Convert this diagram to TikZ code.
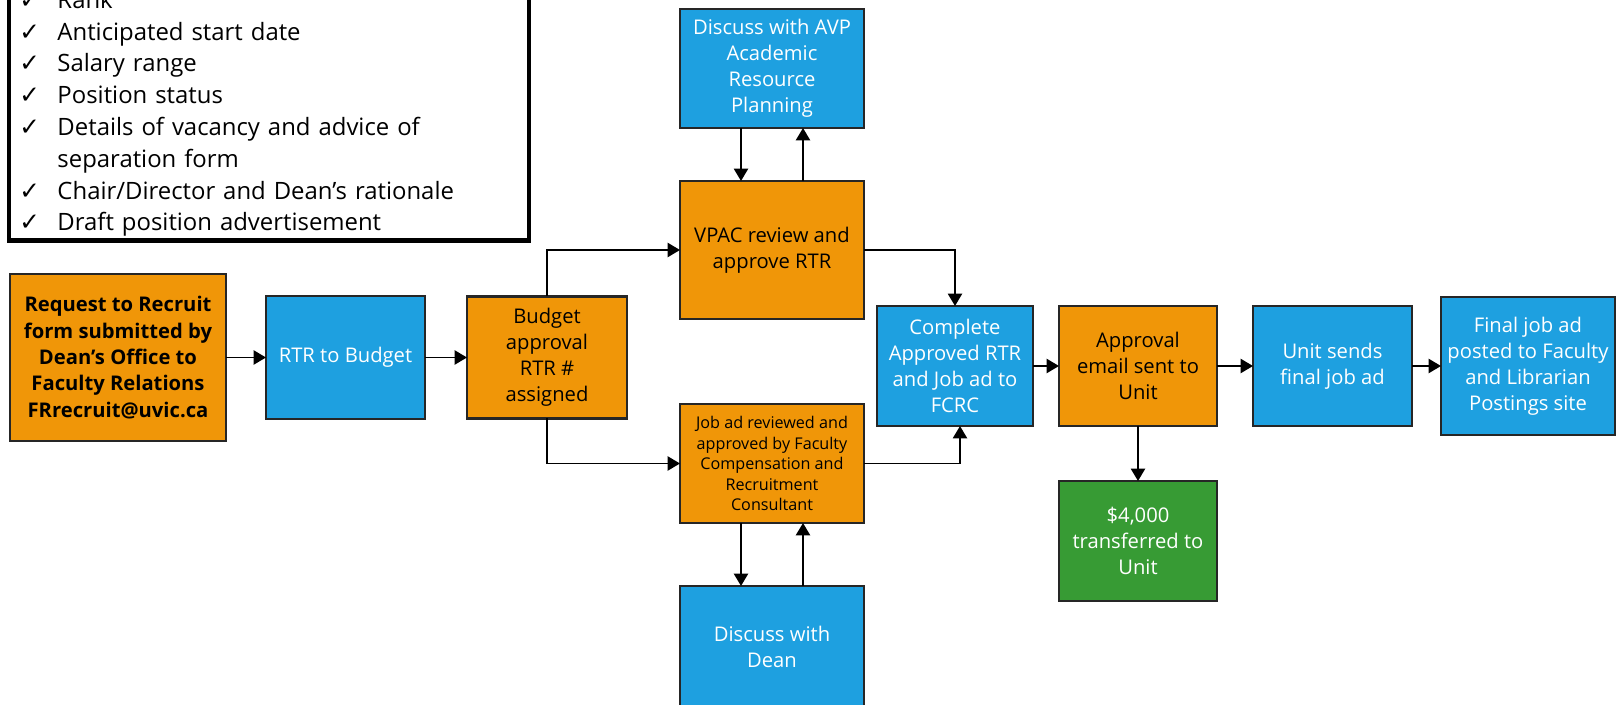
\documentclass[tikz,border=0pt]{standalone}
\usepackage{fontspec}
\setmainfont{Open Sans}
\newfontfamily\tickfont{DejaVu Sans}
\usetikzlibrary{arrows.meta}

\definecolor{rtrorange}{RGB}{240,150,8}
\definecolor{rtrblue}{RGB}{30,160,224}
\definecolor{rtrgreen}{RGB}{55,155,52}
\newcommand{\rtrtick}{{\tickfont\fontsize{14}{14}\selectfont ✓}}

\begin{document}
\begin{tikzpicture}[
  box/.style={draw=black!85, line width=1.4pt, outer sep=0pt, align=center,
    inner sep=2pt, font=\fontsize{11.5}{14.8}\selectfont},
  orangebox/.style={box, fill=rtrorange, text=black},
  bluebox/.style={box, fill=rtrblue, text=white},
  greenbox/.style={box, fill=rtrgreen, text=white},
  arr/.style={line width=1.1pt, -{Triangle[length=7pt,width=8pt]}}
]
\useasboundingbox (0,0) rectangle (32.32,14.08);

% checklist (top runs off the page)
\node[draw, line width=2.8pt, outer sep=0pt, anchor=south west, text width=9.98cm,
  inner xsep=0.21cm, inner ysep=0pt, align=left,
  font=\fontsize{13.6}{18.1}\selectfont] (crit) at (0.18,9.27) {%
  \begin{tabular}{@{}p{0.76cm}@{}l@{}}
  \rtrtick & Rank\\
  \rtrtick & Anticipated start date\\
  \rtrtick & Salary range\\
  \rtrtick & Position status\\
  \rtrtick & Details of vacancy and advice of\\
           & separation form\\
  \rtrtick & Chair/Director and Dean’s rationale\\
  \rtrtick & Draft position advertisement
  \end{tabular}};

\node[orangebox, minimum width=4.32cm, minimum height=3.34cm,
  font=\bfseries\fontsize{11.5}{15}\selectfont] (req) at (2.36,6.93)
  {Request to Recruit\\form submitted by\\Dean’s Office to\\Faculty Relations\\FRrecruit@uvic.ca};
\node[bluebox, minimum width=3.18cm, minimum height=2.46cm] (rtr) at (6.91,6.93) {RTR to Budget};
\node[orangebox, minimum width=3.2cm, minimum height=2.44cm] (bud) at (10.94,6.93)
  {Budget\\approval\\RTR \#\\assigned};

\node[bluebox, minimum width=3.68cm, minimum height=2.38cm] (avp) at (15.44,12.71)
  {Discuss with AVP\\Academic\\Resource\\Planning};
\node[orangebox, minimum width=3.68cm, minimum height=2.76cm] (vpac) at (15.44,9.08)
  {VPAC review and\\approve RTR};
\node[orangebox, minimum width=3.68cm, minimum height=2.38cm,
  font=\fontsize{9.2}{11.7}\selectfont] (job) at (15.44,4.81)
  {Job ad reviewed and\\approved by Faculty\\Compensation and\\Recruitment\\Consultant};
\node[bluebox, minimum width=3.68cm, minimum height=2.44cm] (dean) at (15.44,1.14)
  {Discuss with\\Dean};

\node[bluebox, minimum width=3.12cm, minimum height=2.4cm] (comp) at (19.1,6.76)
  {Complete\\Approved RTR\\and Job ad to\\FCRC};
\node[orangebox, minimum width=3.16cm, minimum height=2.4cm] (appr) at (22.76,6.76)
  {Approval\\email sent to\\Unit};
\node[bluebox, minimum width=3.18cm, minimum height=2.4cm] (unit) at (26.65,6.76)
  {Unit sends\\final job ad};
\node[bluebox, minimum width=3.48cm, minimum height=2.76cm] (fin) at (30.56,6.76)
  {Final job ad\\posted to Faculty\\and Librarian\\Postings site};
\node[greenbox, minimum width=3.16cm, minimum height=2.4cm] (cash) at (22.76,3.26)
  {\$4,000\\transferred to\\Unit};

\draw[arr] (req) -- (rtr);
\draw[arr] (rtr) -- (bud);
\draw[arr] (bud.north) |- (vpac.west);
\draw[arr] (bud.south) |- (job.west);
\draw[arr] ([xshift=-6.2mm]avp.south) -- ([xshift=-6.2mm]avp.south |- vpac.north);
\draw[arr] ([xshift=6.2mm]vpac.north) -- ([xshift=6.2mm]vpac.north |- avp.south);
\draw[arr] ([xshift=-6.2mm]job.south) -- ([xshift=-6.2mm]job.south |- dean.north);
\draw[arr] ([xshift=6.2mm]dean.north) -- ([xshift=6.2mm]dean.north |- job.south);
\draw[arr] (vpac.east) -| (comp.north);
\draw[arr] (job.east) -| ([xshift=1mm]comp.south);
\draw[arr] (comp) -- (appr);
\draw[arr] (appr) -- (unit);
\draw[arr] (unit) -- (fin);
\draw[arr] (appr) -- (cash);
\end{tikzpicture}
\end{document}
